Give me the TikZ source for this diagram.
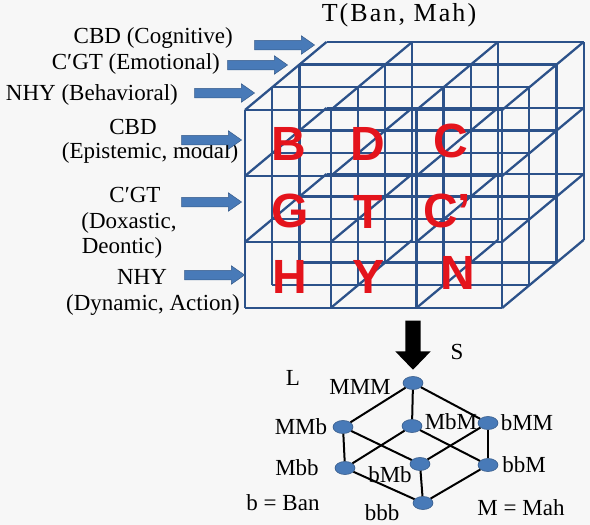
\documentclass[tikz,border=0pt]{standalone}
\usepackage{fontspec}
\setmainfont{Liberation Serif}
\newfontfamily\lblfont{Liberation Serif}
\newfontfamily\cellfont{Liberation Sans}
\usetikzlibrary{positioning, shapes.geometric, shapes.arrows, calc}
\definecolor{wireblue}{RGB}{44,82,138}
\definecolor{arrowblue}{RGB}{72,122,184}
\definecolor{cellred}{RGB}{228,20,28}
\colorlet{bg}{black!3}
\tikzset{
  lbl/.style      ={font=\lblfont\fontsize{23}{26}\selectfont,
                    inner sep=0pt},
  cellchar/.style ={font=\cellfont\bfseries\fontsize{48}{48}\selectfont,
                    text=cellred, inner sep=0pt},
  wire/.style     ={wireblue, line width=2.3pt},
  blkarrow/.style ={single arrow, fill=arrowblue, draw=arrowblue!75!black,
                    line width=0.5pt, inner sep=4.5pt,
                    single arrow head extend=4.5pt,
                    single arrow tip angle=70, minimum height=60pt,
                    anchor=tip},
  downarrow/.style={single arrow, fill=black, inner sep=7.5pt,
                    single arrow head extend=10pt,
                    single arrow tip angle=88, minimum height=49pt,
                    rotate=-90, anchor=tip},
  vtx/.style      ={ellipse, fill=arrowblue, draw=arrowblue!75!black,
                    line width=0.6pt, minimum width=20pt,
                    minimum height=13pt, inner sep=0pt},
  lnk/.style      ={black, line width=2pt},
}

\begin{document}
\begin{tikzpicture}[x=1pt, y=-1pt]
\useasboundingbox (0,0) rectangle (590,525);
\fill[bg] (0,0) rectangle (590,525);

% 3 x 3 x 3 wire cube, hidden outer edges left out
\begin{scope}[shift={(245,308)}, x={(85.7pt,0pt)}, y={(0pt,66pt)},
              z={(27.2pt,22.7pt)}]
  \foreach \i in {0,...,3} {
    \foreach \k in {0,...,3} {
      \ifnum\i\k=3 \else \draw[wire] (\i,0,\k) -- (\i,3,\k); \fi
    }
  }
  \foreach \h in {0,...,3} {
    \foreach \k in {0,...,3} {
      \ifnum\h\k=3 \else \draw[wire] (0,\h,\k) -- (3,\h,\k); \fi
    }
  }
  \foreach \i in {0,...,3} {
    \foreach \h in {0,...,3} {
      \ifnum\i\h=0 \else \draw[wire] (\i,\h,0) -- (\i,\h,3); \fi
    }
  }
\end{scope}

\foreach \ch/\cx/\cy [count=\n] in {B/289/144, D/368/144, C/451/141,
                                    G/290/211, T/368/212, C’/447/211,
                                    H/290/277, Y/369/277, N/458/273}
  \node[cellchar] (ch\n) at (\cx,\cy) {\ch};

\node[lbl, font=\lblfont\fontsize{26}{30}\selectfont
      \addfontfeature{LetterSpace=8}] (title) at (399,15) {T(Ban, Mah)};

% dimension labels and their arrows
\node[lbl, anchor=east] (l1) at (233,38) {CBD (Cognitive)};
\node[lbl, anchor=east] (l2) at (220,64) {C′GT (Emotional)};
\node[lbl, anchor=east] (l3) at (178,95) {NHY (Behavioral)};
\node[lbl] (l4) at (133,127) {CBD};
\node[lbl] (l5) at (150,153) {(Epistemic, modal)};
\node[lbl] (l6) at (135,195) {C′GT};
\node[lbl] (l7) at (129,223) {(Doxastic,};
\node[lbl] (l8) at (122,248) {Deontic)};
\node[lbl] (l9) at (142,277) {NHY};
\node[lbl] (l10) at (153,305) {(Dynamic, Action)};

\foreach \tx/\ty [count=\n] in {315/45, 288/65, 255/93,
                                242/140, 242/202, 245/275}
  \node[blkarrow] (ar\n) at (\tx,\ty) {};

\node[downarrow] (down) at (413,370) {};
\node[lbl] (S) at (457,352) {S};
\node[lbl] (L) at (293,378) {L};

% lattice
\node[vtx] (MMM) at (413,383) {};
\node[vtx] (MMb) at (343,427) {};
\node[vtx] (MbM) at (412,426) {};
\node[vtx] (bMM) at (488,423) {};
\node[vtx] (Mbb) at (345,468) {};
\node[vtx] (bMb) at (420,464) {};
\node[vtx] (bbM) at (488,465) {};
\node[vtx] (bbb) at (423,503) {};
\foreach \a/\b in {MMM/MMb, MMM/MbM, MMM/bMM, MMb/Mbb, MMb/bMb, MbM/Mbb,
                   MbM/bbM, bMM/bMb, bMM/bbM, Mbb/bbb, bMb/bbb, bbM/bbb}
  \draw[lnk] (\a) -- (\b);

\foreach \t/\tx/\ty in {MMM/360/387, MMb/301/427, MbM/451/422,
                        bMM/527/423, Mbb/297/468, bMb/390/475,
                        bbM/524/465, bbb/382/513}
  \node[lbl] (t\t) at (\tx,\ty) {\t};
\node[lbl] (keyb) at (283,503) {b = Ban};
\node[lbl] (keyM) at (521,508) {M = Mah};

\end{tikzpicture}
\end{document}
